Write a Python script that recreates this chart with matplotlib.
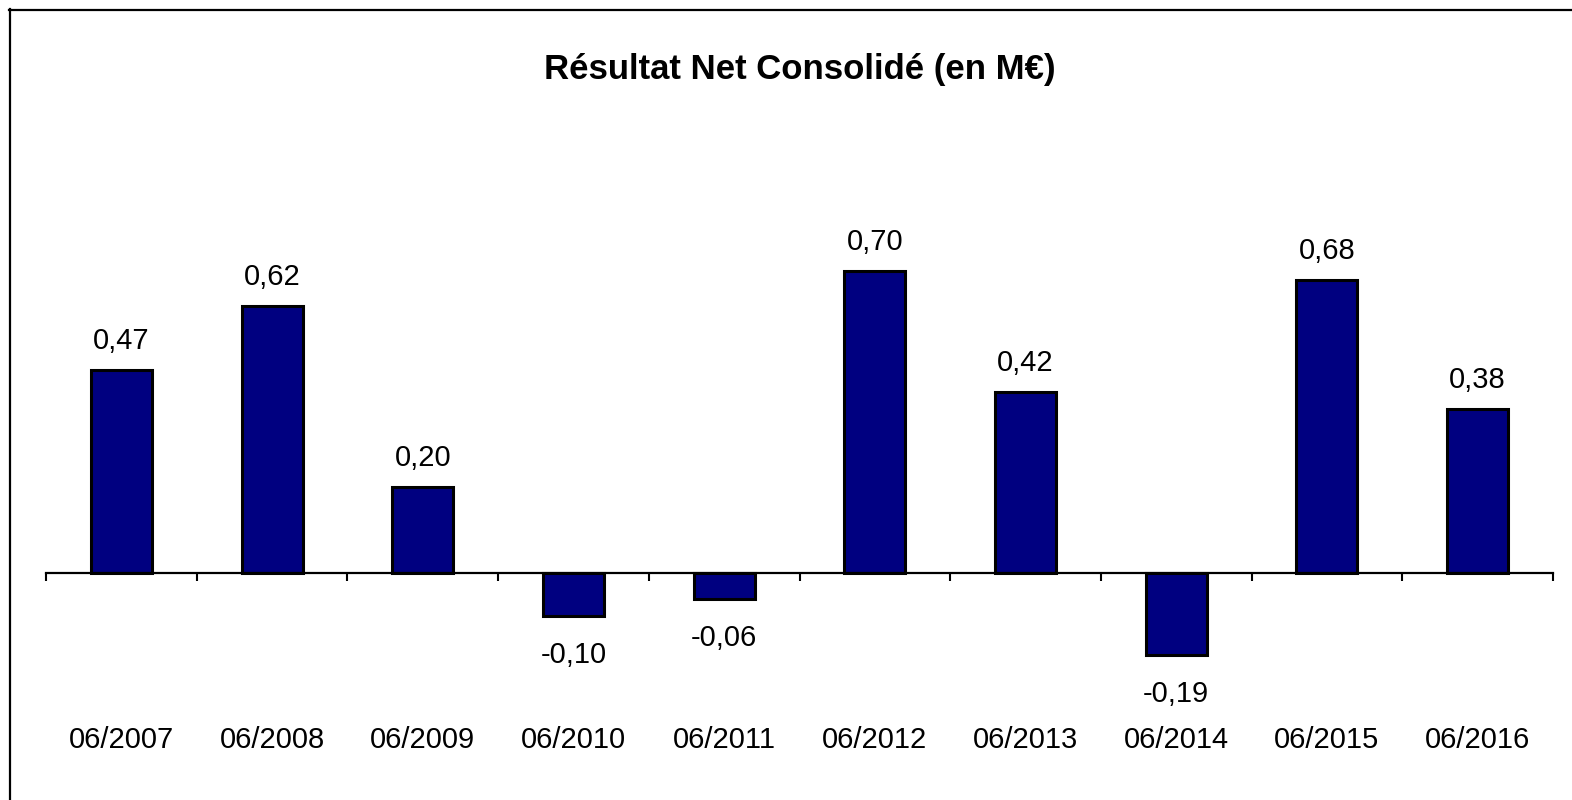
import matplotlib
matplotlib.use("Agg")
import matplotlib.pyplot as plt
from matplotlib.lines import Line2D
from matplotlib.transforms import blended_transform_factory

categories = ["06/2007", "06/2008", "06/2009", "06/2010", "06/2011",
              "06/2012", "06/2013", "06/2014", "06/2015", "06/2016"]
values = [0.47, 0.62, 0.20, -0.10, -0.06, 0.70, 0.42, -0.19, 0.68, 0.38]
title = "Résultat Net Consolidé (en M€)"

plt.rcParams['font.family'] = ['Liberation Sans', 'DejaVu Sans']

W, H = 1572, 800
fig = plt.figure(figsize=(W / 100, H / 100), dpi=100)
ax = fig.add_axes([46 / W, 0.0844, (1553 - 46) / W, 0.7004])

x = list(range(len(values)))
ax.bar(x, values, width=0.405, color="#000080", edgecolor="black", linewidth=2.2, zorder=2)

ax.set_xlim(-0.5, len(values) - 0.5)
ax.set_ylim(-0.37, 0.93)
for s in ["top", "right", "left"]:
    ax.spines[s].set_visible(False)
ax.spines["bottom"].set_position(("data", 0))
ax.spines["bottom"].set_linewidth(1.6)
ax.spines["bottom"].set_zorder(3)
ax.set_yticks([])
ax.set_xticks([i - 0.5 for i in range(len(values) + 1)])
ax.set_xticklabels([])
ax.tick_params(axis="x", direction="out", length=6, width=1.5, color="black")

for xi, v in zip(x, values):
    lab = f"{v:.2f}".replace(".", ",")
    off = 21 if v >= 0 else -28
    ax.annotate(lab, (xi, v), xytext=(0, off), textcoords="offset points",
                ha="center", va="center", fontsize=21)

tr = blended_transform_factory(ax.transData, fig.transFigure)
for xi, c in zip(x, categories):
    ax.text(xi, 1 - 740 / H, c, transform=tr, ha="center", va="center", fontsize=21)

fig.text(800 / W, 1 - 70 / H, title, ha="center", va="center", fontsize=25, fontweight="bold")

fig.add_artist(Line2D([9.5 / W, 9.5 / W], [0, 1 - 9 / H], transform=fig.transFigure,
                      color="black", linewidth=1.6))
fig.add_artist(Line2D([9 / W, 1], [1 - 9.5 / H, 1 - 9.5 / H], transform=fig.transFigure,
                      color="black", linewidth=1.6))

fig.savefig("out.png", dpi=100)
